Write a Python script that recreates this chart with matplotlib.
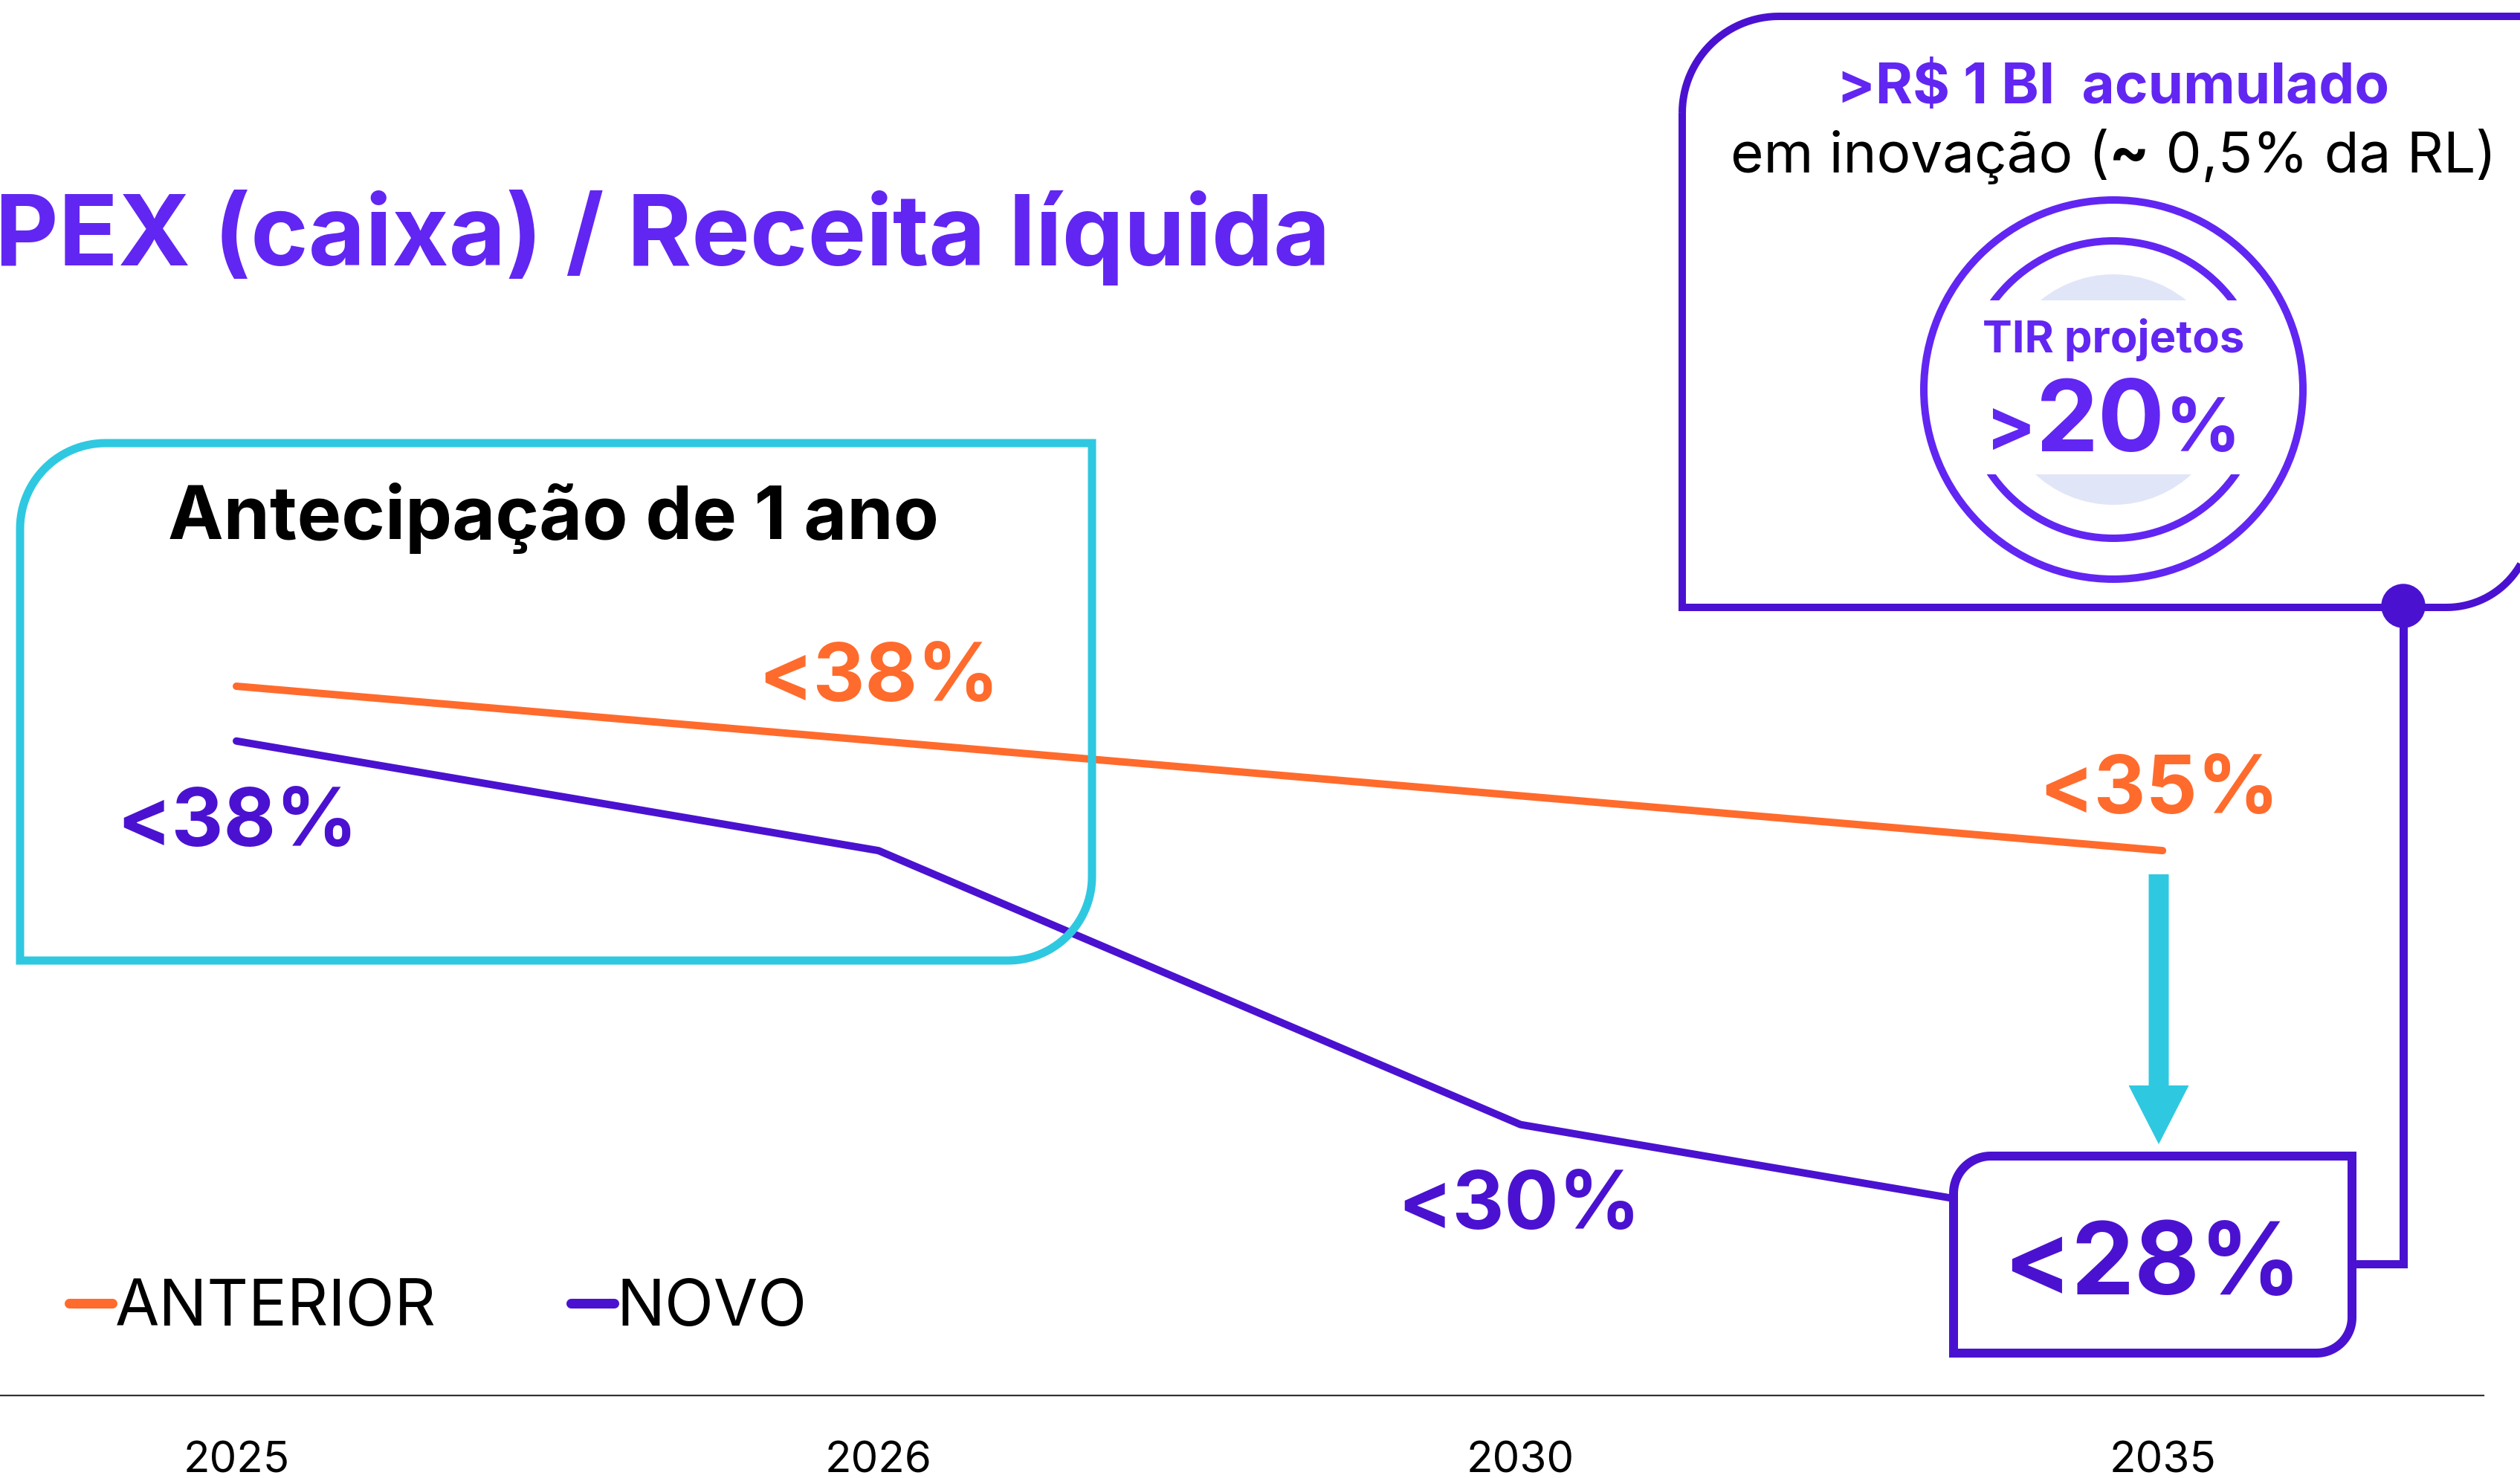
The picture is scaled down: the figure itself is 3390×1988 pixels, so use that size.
import matplotlib
matplotlib.use("Agg")
import matplotlib.pyplot as plt
from matplotlib.path import Path
from matplotlib.patches import PathPatch, Circle, Rectangle, FancyArrow
from matplotlib.transforms import Affine2D
from matplotlib.lines import Line2D
import numpy as np

# ---------------- data ----------------
years = ["2025", "2026", "2030", "2035"]
anterior = [38, 37, 36, 35]
novo = [37, 35, 30, 28]
anterior_labels = ["<38%", "<35%"]
novo_labels = ["<38%", "<30%", "<28%"]
series_names = ["ANTERIOR", "NOVO"]

ORANGE = "#FF6B2C"
NOVO_C = "#4A12D0"
BRIGHT = "#6226F2"
CYAN = "#2FC8E1"
LAV = "#E1E5F8"

plt.rcParams['font.family'] = ['Inter', 'DejaVu Sans']

W, H = 3391, 1988
fig = plt.figure(figsize=(W / 100, H / 100), dpi=100)
PX = Affine2D().scale(1 / W, -1 / H).translate(0, 1) + fig.transFigure

# ---------------- axes / lines ----------------
ax = fig.add_axes([0, 1 - 1877 / H, 3341 / W, 1877 / H])
ax.patch.set_alpha(0)
x = np.arange(len(years))
ax.plot(x, anterior, color=ORANGE, lw=7.2, solid_capstyle='round', zorder=3)
ax.plot(x, novo, color=NOVO_C, lw=7.2, solid_capstyle='round', zorder=3)
ax.set_xlim(-0.3682, 3.500)
ax.set_ylim(25.056, 50.524)
ax.set_xticks(x, years)
ax.set_yticks([])
ax.tick_params(axis='x', length=0, pad=44, labelsize=42)
for s in ['top', 'left', 'right']:
    ax.spines[s].set_visible(False)
ax.spines['bottom'].set_color('#333333')
ax.spines['bottom'].set_linewidth(1.6)

handles = [Line2D([], [], color=ORANGE, lw=9.4, solid_capstyle='round'),
           Line2D([], [], color=NOVO_C, lw=9.4, solid_capstyle='round')]
ax.legend(handles, series_names, ncol=2, frameon=False, fontsize=62,
          handlelength=0.67, handletextpad=0.05, columnspacing=2.1,
          loc='center left', bbox_to_anchor=(93 / W, 1 - 1761 / H),
          bbox_transform=fig.transFigure, borderpad=0, borderaxespad=0)


# ---------------- helpers ----------------
def rounded_path(l, t, r, b, rad):
    # rad: (tl, tr, br, bl) in px; y grows downward
    tl, tr, br, bl = rad
    pts = []
    def arc(cx, cy, rr, a0, a1):
        if rr <= 0:
            return [(cx, cy)]
        a = np.linspace(np.radians(a0), np.radians(a1), 30)
        return list(zip(cx + rr * np.cos(a), cy + rr * np.sin(a)))
    pts += arc(l + tl, t + tl, tl, 180, 270)
    pts += arc(r - tr, t + tr, tr, 270, 360)
    pts += arc(r - br, b - br, br, 0, 90)
    pts += arc(l + bl, b - bl, bl, 90, 180)
    pts.append(pts[0])
    return Path(pts, closed=True)


def box(l, t, r, b, rad, color, lw_px, fill='none', z=5):
    p = PathPatch(rounded_path(l, t, r, b, rad), transform=PX, facecolor=fill,
                  edgecolor=color, lw=lw_px * 0.72, joinstyle='miter', zorder=z)
    fig.add_artist(p)
    return p


def txt(xp, yp, s, size, color, weight='bold', ha='center', z=6):
    return fig.text(xp, yp, s, transform=PX, fontsize=size, color=color,
                    fontweight=weight, ha=ha, va='baseline', zorder=z)


def seq_text(pieces, cx, baseline, z=6):
    r = fig.canvas.get_renderer()
    items = []
    for s, size, color, weight in pieces:
        t = fig.text(0, 0, s, transform=PX, fontsize=size, color=color,
                     fontweight=weight, ha='left', va='baseline', zorder=z)
        w = t.get_window_extent(r).width
        items.append((t, w))
    x0 = cx - sum(w for _, w in items) / 2
    for t, w in items:
        t.set_position((x0, baseline))
        x0 += w


# ---------------- title ----------------
txt(1790, 357, "CAPEX (caixa) / Receita líquida", 95, BRIGHT, ha='right')

# ---------------- cyan "antecipação" box ----------------
box(27, 596, 1469, 1292, (115, 0, 113, 0), CYAN, 11, z=4)
txt(745, 725, "Antecipação de 1 ano", 72, 'black')

# ---------------- value labels ----------------
txt(1182, 943, anterior_labels[0], 78, ORANGE)
txt(2905, 1094, anterior_labels[1], 78, ORANGE)
txt(319, 1138, novo_labels[0], 78, NOVO_C)
txt(2044, 1653, novo_labels[1], 78, NOVO_C)

# ---------------- arrow ----------------
fig.add_artist(FancyArrow(2904, 1176, 0, 363, width=27, head_width=81,
                          head_length=79, length_includes_head=True,
                          transform=PX, color=CYAN, lw=0, zorder=5))

# ---------------- <28% box + connector ----------------
box(2628, 1555, 3164, 1820, (50, 0, 48, 0), NOVO_C, 12, fill='white', z=5)
txt(2896, 1741, novo_labels[2], 97, NOVO_C)
conn = Line2D([3164, 3233, 3233], [1700, 1700, 815], transform=PX,
              color=NOVO_C, lw=11 * 0.72, solid_joinstyle='miter', zorder=5)
fig.add_artist(conn)
fig.add_artist(Circle((3233, 815), 29, transform=PX, color=NOVO_C, zorder=7))

# ---------------- top-right box ----------------
box(2263, 22, 3406, 817, (130, 0, 115, 0), NOVO_C, 10, z=5)
seq_text([(">R$ 1 BI  acumulado", 55, BRIGHT, 'bold')], 2843, 139)
seq_text([("em inovação (", 55, 'black', 'normal'),
          ("~", 58, 'black', 'bold'),
          (" 0,5% da RL)", 55, 'black', 'normal')], 2843, 232)

CX, CY = 2843, 524
fig.add_artist(Circle((CX, CY), 255, transform=PX, facecolor='none',
                      edgecolor=BRIGHT, lw=10 * 0.72, zorder=5))
for (y0, hh) in [(0, 404), (638, 400)]:
    clip = Rectangle((2400, y0), 900, hh, transform=PX)
    c1 = Circle((CX, CY), 155, transform=PX, facecolor=LAV, edgecolor='none', zorder=5)
    c2 = Circle((CX, CY), 200, transform=PX, facecolor='none', edgecolor=BRIGHT,
                lw=10 * 0.72, zorder=5)
    fig.add_artist(c1)
    fig.add_artist(c2)
    c1.set_clip_path(clip)
    c2.set_clip_path(clip)

txt(CX, 474, "TIR projetos", 43, BRIGHT)
seq_text([(">", 72, BRIGHT, 'bold'), ("20", 96, BRIGHT, 'bold'),
          ("%", 72, BRIGHT, 'bold')], CX, 607)

fig.savefig("out.png", dpi=100, facecolor='white')
